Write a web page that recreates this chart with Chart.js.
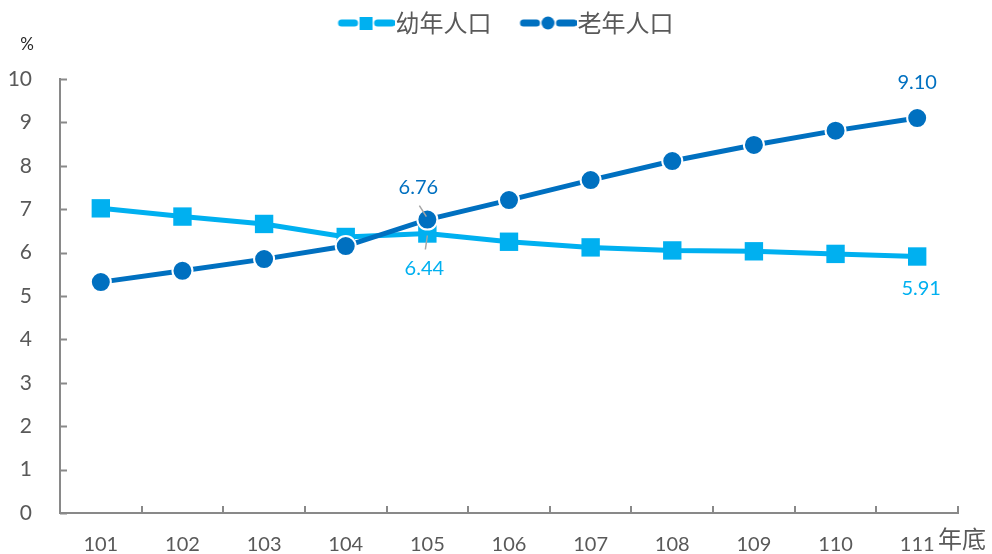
<!DOCTYPE html>
<html>
<head>
<meta charset="utf-8">
<script src="https://cdn.jsdelivr.net/npm/chart.js@4"></script>
<style>
  body { margin: 0; background: #fff; }
  #wrap { width: 992px; height: 554px; }
</style>
</head>
<body>
<div id="wrap"><canvas id="myChart" width="992" height="554"></canvas></div>
<script>
const years = ['101', '102', '103', '104', '105', '106', '107', '108', '109', '110', '111'];
const youngPct = [7.02, 6.83, 6.66, 6.36, 6.44, 6.25, 6.12, 6.05, 6.03, 5.97, 5.91];
const oldPct = [5.32, 5.58, 5.85, 6.15, 6.76, 7.21, 7.67, 8.11, 8.48, 8.81, 9.10];
const seriesNames = ['幼年人口', '老年人口'];
const yTicks = [0, 1, 2, 3, 4, 5, 6, 7, 8, 9, 10];

const lightBlue = '#00B0F0';
const darkBlue = '#0070C0';
const axisGray = '#898989';
const textGray = '#595959';
const numFont = 'Lato, "Noto Sans", sans-serif';
const cjkFont = '"Noto Sans CJK TC", "Noto Sans CJK SC", sans-serif';

// labels shown on the chart: [dataset, index, dx, dy]
const shownLabels = [
    [1, 4, -9, -32],
    [0, 4, -3, 35],
    [1, 10, 0, -36],
    [0, 10, 4, 32]
];

// legend icon: line - marker - line, drawn with empty room on the left
const makeIcon = (color, shape) => {
    const c = document.createElement('canvas');
    c.width = 85;
    c.height = 16;
    const g = c.getContext('2d');
    const v = 28;
    g.strokeStyle = color;
    g.fillStyle = color;
    g.lineWidth = 7;
    g.lineCap = 'round';
    g.beginPath();
    g.moveTo(v + 4, 8); g.lineTo(v + 17, 8);
    g.moveTo(v + 40, 8); g.lineTo(v + 54, 8);
    g.stroke();
    g.beginPath();
    if (shape === 'rect') {
        g.rect(v + 22, 2, 13, 13);
    } else {
        g.arc(v + 28.5, 8, 6.5, 0, Math.PI * 2);
    }
    g.fill();
    return c;
};
const icons = [makeIcon(lightBlue, 'rect'), makeIcon(darkBlue, 'circle')];

// make the legend take the whole band above the plot and sit a bit right
const legendBand = {
    id: 'legendBand',
    beforeLayout(chart) {
        const lg = chart.legend;
        if (lg && !lg._patched) {
            const fit = lg.fit;
            lg.fit = function () {
                fit.call(this);
                this.height = 79;
            };
            lg._patched = true;
        }
    },
    afterLayout(chart) {
        chart.legend.left += 18;
        chart.legend.right += 18;
    }
};

const extras = {
    id: 'extras',
    afterDraw(chart) {
        const ctx = chart.ctx;
        const xs = chart.scales.x;
        const ys = chart.scales.y;
        ctx.save();
        // inner tick marks
        ctx.strokeStyle = axisGray;
        ctx.lineWidth = 2;
        ctx.beginPath();
        yTicks.forEach(v => {
            const y = Math.round(ys.getPixelForValue(v)) + 0.5;
            ctx.moveTo(xs.left, y);
            ctx.lineTo(xs.left + 7, y);
        });
        const step = xs.getPixelForValue(1) - xs.getPixelForValue(0);
        for (let i = 1; i <= years.length; i++) {
            const x = Math.round(xs.getPixelForValue(i) - step / 2);
            ctx.moveTo(x, ys.bottom);
            ctx.lineTo(x, ys.bottom - 7);
        }
        ctx.stroke();

        // data labels with leader lines
        ctx.font = '20px ' + numFont;
        ctx.textAlign = 'center';
        ctx.textBaseline = 'middle';
        shownLabels.forEach(([ds, i, dx, dy]) => {
            const pt = chart.getDatasetMeta(ds).data[i];
            const vals = ds === 0 ? youngPct : oldPct;
            ctx.fillStyle = ds === 0 ? lightBlue : darkBlue;
            ctx.fillText(vals[i].toFixed(2), pt.x + dx, pt.y + dy);
        });
        const p1 = chart.getDatasetMeta(1).data[4];
        const p0 = chart.getDatasetMeta(0).data[4];
        ctx.strokeStyle = '#a6a6a6';
        ctx.lineWidth = 1.5;
        ctx.beginPath();
        ctx.moveTo(p1.x - 8, p1.y - 14);
        ctx.lineTo(p1.x - 1, p1.y - 3);
        ctx.moveTo(p0.x, p0.y + 2);
        ctx.lineTo(p0.x - 2, p0.y + 16);
        ctx.stroke();

        // unit and axis title
        ctx.fillStyle = '#262626';
        ctx.font = '17px ' + numFont;
        ctx.textAlign = 'center';
        ctx.fillText('%', 27, 45);
        ctx.fillStyle = textGray;
        ctx.font = '24px ' + cjkFont;
        ctx.textAlign = 'left';
        ctx.fillText('年底', 938, 539);
        ctx.restore();
    }
};

const ctx = document.getElementById('myChart').getContext('2d');
new Chart(ctx, {
    type: 'line',
    data: {
        labels: years,
        datasets: [{
            label: seriesNames[0],
            data: youngPct,
            borderColor: lightBlue,
            backgroundColor: lightBlue,
            borderWidth: 5,
            pointStyle: 'rect',
            pointRadius: 13,
            pointBorderColor: lightBlue,
            pointBorderWidth: 0,
            pointBackgroundColor: lightBlue,
            order: 2
        }, {
            label: seriesNames[1],
            data: oldPct,
            borderColor: darkBlue,
            backgroundColor: darkBlue,
            borderWidth: 5,
            pointStyle: 'circle',
            pointRadius: 10,
            pointBorderColor: '#ffffff',
            pointBorderWidth: 2,
            pointBackgroundColor: darkBlue,
            order: 1
        }]
    },
    options: {
        responsive: false,
        animation: false,
        layout: { padding: { left: 0, right: 34, top: 0, bottom: 0 } },
        plugins: {
            tooltip: { enabled: false },
            legend: {
                position: 'top',
                labels: {
                    usePointStyle: true,
                    pointStyleWidth: 63,
                    padding: 11,
                    color: textGray,
                    font: { size: 24, family: cjkFont },
                    sort: (a, b) => a.datasetIndex - b.datasetIndex,
                    generateLabels: (chart) => chart.data.datasets.map((d, i) => ({
                        text: d.label,
                        fillStyle: d.borderColor,
                        strokeStyle: d.borderColor,
                        pointStyle: icons[i],
                        datasetIndex: i,
                        fontColor: textGray,
                        lineWidth: 0
                    }))
                }
            }
        },
        scales: {
            x: {
                offset: true,
                grid: { display: false, drawTicks: false },
                border: { display: true, color: axisGray, width: 2 },
                ticks: { color: textGray, padding: 20, font: { size: 20, family: numFont } },
                afterFit: (s) => { s.height = 41; }
            },
            y: {
                min: 0,
                max: 10,
                grid: { display: false, drawTicks: false },
                border: { display: true, color: axisGray, width: 2 },
                ticks: { stepSize: 1, color: textGray, padding: 28, font: { size: 21, family: numFont } },
                afterFit: (s) => { s.width = 60; }
            }
        }
    },
    plugins: [legendBand, extras]
});
</script>
</body>
</html>
